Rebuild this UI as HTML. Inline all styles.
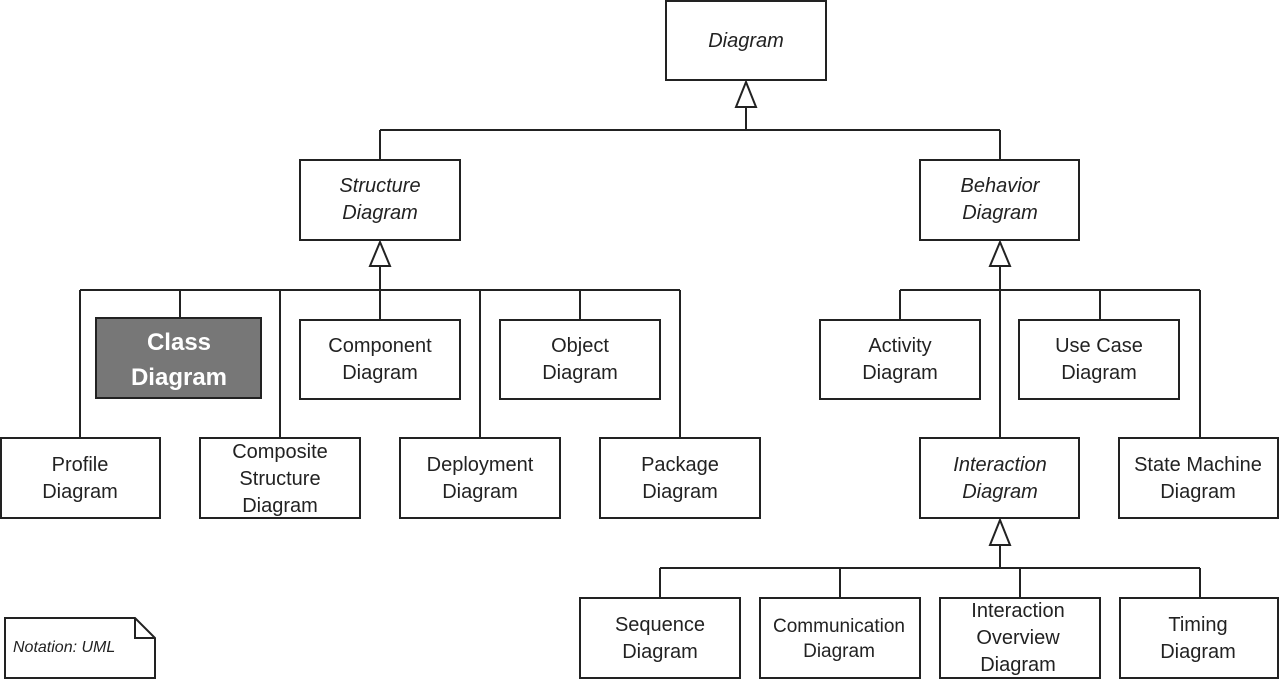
<!DOCTYPE html>
<html><head><meta charset="utf-8"><style>
html,body{margin:0;padding:0;background:#fff;}
svg{display:block;}
text{font-family:"Liberation Sans",Arial,sans-serif;font-size:20px;fill:#222;text-anchor:middle;}
.i{font-style:italic;}
rect{fill:#fff;stroke:#222;stroke-width:2;}
line,polyline{stroke:#222;stroke-width:2;fill:none;}
.ar{fill:#fff;stroke:#222;stroke-width:2;}
</style></head><body>
<svg width="1280" height="679" viewBox="0 0 1280 679" xmlns="http://www.w3.org/2000/svg">
<line x1="746" y1="107" x2="746" y2="130"/>
<line x1="380" y1="130" x2="1000" y2="130"/>
<line x1="380" y1="130" x2="380" y2="160"/>
<line x1="1000" y1="130" x2="1000" y2="160"/>

<line x1="380" y1="266" x2="380" y2="290"/>
<line x1="80" y1="290" x2="680" y2="290"/>
<line x1="80" y1="290" x2="80" y2="438"/>
<line x1="180" y1="290" x2="180" y2="318"/>
<line x1="280" y1="290" x2="280" y2="438"/>
<line x1="380" y1="290" x2="380" y2="320"/>
<line x1="480" y1="290" x2="480" y2="438"/>
<line x1="580" y1="290" x2="580" y2="320"/>
<line x1="680" y1="290" x2="680" y2="438"/>

<line x1="1000" y1="266" x2="1000" y2="438"/>
<line x1="900" y1="290" x2="1200" y2="290"/>
<line x1="900" y1="290" x2="900" y2="320"/>
<line x1="1100" y1="290" x2="1100" y2="320"/>
<line x1="1200" y1="290" x2="1200" y2="438"/>

<line x1="1000" y1="545" x2="1000" y2="568"/>
<line x1="660" y1="568" x2="1200" y2="568"/>
<line x1="660" y1="568" x2="660" y2="598"/>
<line x1="840" y1="568" x2="840" y2="598"/>
<line x1="1020" y1="568" x2="1020" y2="598"/>
<line x1="1200" y1="568" x2="1200" y2="598"/>

<polygon class="ar" points="746,82 736,107 756,107"/>
<polygon class="ar" points="380,242 370,266 390,266"/>
<polygon class="ar" points="1000,242 990,266 1010,266"/>
<polygon class="ar" points="1000,520 990,545 1010,545"/>

<rect x="666" y="1" width="160" height="79"/>
<text class="i" x="746" y="47">Diagram</text>

<rect x="300" y="160" width="160" height="80"/>
<text class="i" x="380" y="192">Structure</text><text class="i" x="380" y="219">Diagram</text>
<rect x="920" y="160" width="159" height="80"/>
<text class="i" x="1000" y="192">Behavior</text><text class="i" x="1000" y="219">Diagram</text>

<rect x="96" y="318" width="165" height="80" style="fill:#777"/>
<text x="179" y="350" style="fill:#fff;font-size:24px;font-weight:bold;">Class</text>
<text x="179" y="385" style="fill:#fff;font-size:24px;font-weight:bold;">Diagram</text>

<rect x="300" y="320" width="160" height="79"/>
<text x="380" y="352">Component</text><text x="380" y="379">Diagram</text>
<rect x="500" y="320" width="160" height="79"/>
<text x="580" y="352">Object</text><text x="580" y="379">Diagram</text>

<rect x="1" y="438" width="159" height="80"/>
<text x="80" y="471">Profile</text><text x="80" y="498">Diagram</text>
<rect x="200" y="438" width="160" height="80"/>
<text x="280" y="458">Composite</text><text x="280" y="485">Structure</text><text x="280" y="512">Diagram</text>
<rect x="400" y="438" width="160" height="80"/>
<text x="480" y="471">Deployment</text><text x="480" y="498">Diagram</text>
<rect x="600" y="438" width="160" height="80"/>
<text x="680" y="471">Package</text><text x="680" y="498">Diagram</text>

<rect x="820" y="320" width="160" height="79"/>
<text x="900" y="352">Activity</text><text x="900" y="379">Diagram</text>
<rect x="1019" y="320" width="160" height="79"/>
<text x="1099" y="352">Use Case</text><text x="1099" y="379">Diagram</text>

<rect x="920" y="438" width="159" height="80"/>
<text class="i" x="1000" y="471">Interaction</text><text class="i" x="1000" y="498">Diagram</text>
<rect x="1119" y="438" width="159" height="80"/>
<text x="1198" y="471">State Machine</text><text x="1198" y="498">Diagram</text>

<rect x="580" y="598" width="160" height="80"/>
<text x="660" y="631">Sequence</text><text x="660" y="658">Diagram</text>
<rect x="760" y="598" width="160" height="80"/>
<text x="839" y="632" style="font-size:19px">Communication</text><text x="839" y="657" style="font-size:19px">Diagram</text>
<rect x="940" y="598" width="160" height="80"/>
<text x="1018" y="617">Interaction</text><text x="1018" y="644">Overview</text><text x="1018" y="671">Diagram</text>
<rect x="1120" y="598" width="158" height="80"/>
<text x="1198" y="631">Timing</text><text x="1198" y="658">Diagram</text>

<polygon class="ar" points="5,618 135,618 155,638 155,678 5,678"/>
<polyline points="135,618 135,638 155,638"/>
<text class="i" x="13" y="652" style="text-anchor:start;font-size:16px">Notation: UML</text>
</svg>
</body></html>
